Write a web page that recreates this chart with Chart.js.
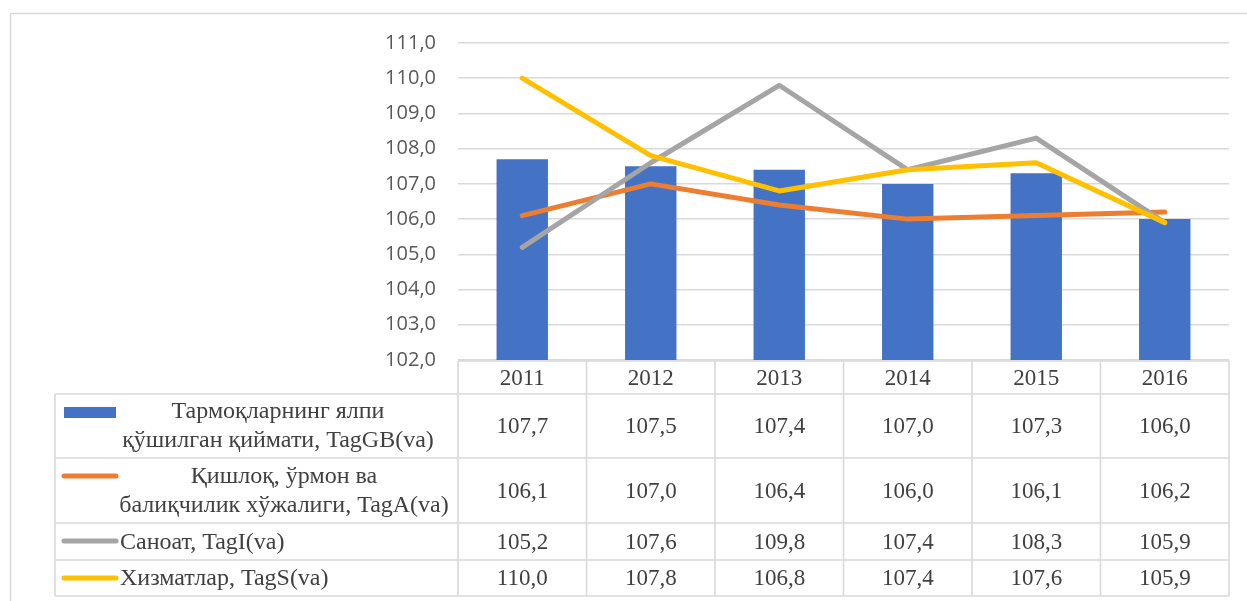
<!DOCTYPE html>
<html><head><meta charset="utf-8">
<script src="https://cdn.jsdelivr.net/npm/chart.js@4"></script>
<style>html,body{margin:0;padding:0;background:#fff;overflow:hidden;}#wrap{position:relative;width:1247px;height:601px;}canvas{display:block;}</style>
</head><body><div id="wrap"><canvas id="c" width="1247" height="601"></canvas></div>
<script>
const years = ['2011', '2012', '2013', '2014', '2015', '2016'];
const gvaTotal = [107.7, 107.5, 107.4, 107.0, 107.3, 106.0];
const agriculture = [106.1, 107.0, 106.4, 106.0, 106.1, 106.2];
const industry = [105.2, 107.6, 109.8, 107.4, 108.3, 105.9];
const services = [110.0, 107.8, 106.8, 107.4, 107.6, 105.9];
const seriesLabels = [
  ['Тармоқларнинг ялпи', 'қўшилган қиймати, TagGB(va)'],
  ['Қишлоқ, ўрмон ва', 'балиқчилик хўжалиги, TagA(va)'],
  ['Саноат, TagI(va)'],
  ['Хизматлар, TagS(va)']
];
const yMin = 102, yMax = 111, yStep = 1;

const fmt = v => v.toFixed(1).replace('.', ',');
const colors = ['#4472C4', '#ED7D31', '#A5A5A5', '#FFC000'];
const seriesData = [gvaTotal, agriculture, industry, services];

const tablePlugin = {
  id: 'dataTable',
  afterDraw(chart) {
    const ctx = chart.ctx;
    const xs = chart.scales.x;
    const area = chart.chartArea;
    const left = area.left, right = area.right;
    const colW = (right - left) / years.length;
    const tLeft = 55;
    const rows = [area.bottom + 1, 394, 458, 523, 560, 596];
    ctx.save();
    ctx.strokeStyle = '#D9D9D9';
    ctx.lineWidth = 1.5;
    ctx.strokeRect(10.5, 13.5, 1250, 600);
    ctx.lineWidth = 1.6;
    ctx.beginPath();
    ctx.moveTo(left, rows[0]); ctx.lineTo(right, rows[0]);
    for (let r = 1; r < rows.length; r++) { ctx.moveTo(tLeft, rows[r]); ctx.lineTo(right, rows[r]); }
    ctx.moveTo(tLeft, rows[1]); ctx.lineTo(tLeft, rows[5]);
    for (let i = 0; i <= years.length; i++) {
      const x = left + i * colW;
      ctx.moveTo(x, rows[0]); ctx.lineTo(x, rows[5]);
    }
    ctx.stroke();
    ctx.fillStyle = '#404040';
    const valFont = '23px "Liberation Serif", "Times New Roman", serif';
    const legFont = '24px "Liberation Serif", "Times New Roman", serif';
    ctx.font = valFont;
    ctx.textAlign = 'center';
    ctx.textBaseline = 'middle';
    years.forEach((y, i) => ctx.fillText(y, xs.getPixelForValue(i), (rows[0] + rows[1]) / 2 + 1));
    seriesData.forEach((arr, r) => {
      const yc = (rows[r + 1] + rows[r + 2]) / 2 + 1;
      ctx.font = valFont;
      ctx.textAlign = 'center';
      arr.forEach((v, i) => ctx.fillText(fmt(v), xs.getPixelForValue(i), yc));
      if (r === 0) {
        ctx.fillStyle = colors[0];
        ctx.fillRect(64, 407, 52, 11);
        ctx.fillStyle = '#404040';
      } else {
        const ly = r === 1 ? 476 : (r === 2 ? 541 : 578);
        ctx.strokeStyle = colors[r];
        ctx.lineWidth = 5;
        ctx.lineCap = 'round';
        ctx.beginPath(); ctx.moveTo(64, ly); ctx.lineTo(116, ly); ctx.stroke();
      }
      ctx.font = legFont;
      const lines = seriesLabels[r];
      if (lines.length === 2) {
        const cx = r === 0 ? 278 : 284;
        ctx.textAlign = 'center';
        ctx.fillText(lines[0], cx, yc - 15);
        ctx.fillText(lines[1], cx, yc + 14);
      } else {
        ctx.textAlign = 'left';
        ctx.fillText(lines[0], 120, yc);
      }
    });
    ctx.restore();
  }
};

new Chart(document.getElementById('c'), {
  data: {
    labels: years,
    datasets: [
      { type: 'line', label: seriesLabels[3].join(' '), data: services, borderColor: colors[3], backgroundColor: colors[3], borderWidth: 5, pointRadius: 0, borderCapStyle: 'round', borderJoinStyle: 'round', order: 1 },
      { type: 'line', label: seriesLabels[2].join(' '), data: industry, borderColor: colors[2], backgroundColor: colors[2], borderWidth: 5, pointRadius: 0, borderCapStyle: 'round', borderJoinStyle: 'round', order: 2 },
      { type: 'line', label: seriesLabels[1].join(' '), data: agriculture, borderColor: colors[1], backgroundColor: colors[1], borderWidth: 5, pointRadius: 0, borderCapStyle: 'round', borderJoinStyle: 'round', order: 3 },
      { type: 'bar', label: seriesLabels[0].join(' '), data: gvaTotal, backgroundColor: colors[0], barPercentage: 0.4, categoryPercentage: 1, order: 4 }
    ]
  },
  options: {
    responsive: false,
    animation: false,
    devicePixelRatio: 1,
    layout: { padding: { left: 0, right: 18, top: 43, bottom: 241 } },
    plugins: { legend: { display: false }, tooltip: { enabled: false } },
    scales: {
      x: { display: false, offset: true, grid: { display: false } },
      y: {
        min: yMin, max: yMax,
        afterFit: s => { s.width = 458; },
        border: { display: false },
        grid: { color: '#D9D9D9', lineWidth: 1.5, drawTicks: false },
        ticks: { stepSize: yStep, padding: 22, color: '#595959', font: { family: '"Open Sans", "Liberation Sans", Arial, sans-serif', size: 20 }, callback: v => fmt(v) }
      }
    }
  },
  plugins: [tablePlugin]
});
</script>
</body></html>
